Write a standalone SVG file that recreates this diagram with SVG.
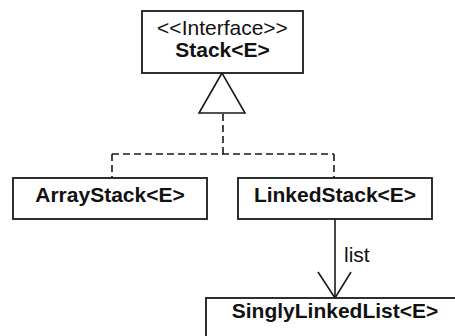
<svg xmlns="http://www.w3.org/2000/svg" width="455" height="336" viewBox="0 0 455 336">
  <style>
    .box { fill: #ffffff; stroke: #1a1a1a; stroke-width: 1.8; }
    .lbl { font-family: "Liberation Sans", Arial, sans-serif; font-size: 21px; fill: #111111; text-anchor: middle; }
    .b { font-weight: bold; }
    .line { fill: none; stroke: #1a1a1a; stroke-width: 1.6; }
    .dash { stroke-dasharray: 7 4; }
  </style>
  <rect width="455" height="336" fill="#ffffff"/>

  <g id="connectors">
    <!-- realization: implementations to the interface -->
    <path class="line dash" d="M223 114 V154 M112 154 H334 M112 154 V178 M334 154 V178"/>
    <polygon class="line" points="222,73 199,113 245,113" fill="#ffffff"/>
    <!-- association: LinkedStack -> SinglyLinkedList -->
    <path class="line" d="M335 219 V298"/>
    <path class="line" d="M318 272 L335 298 L351 272"/>
    <text class="lbl" x="344" y="262" text-anchor="start" style="text-anchor:start">list</text>
  </g>

  <g id="stack">
    <rect class="box" x="142" y="11" width="161" height="62"/>
    <text class="lbl" x="222.5" y="35">&lt;&lt;Interface&gt;&gt;</text>
    <text class="lbl b" x="222.5" y="57">Stack&lt;E&gt;</text>
  </g>

  <g id="arraystack">
    <rect class="box" x="13" y="178" width="194" height="41"/>
    <text class="lbl b" x="110" y="202">ArrayStack&lt;E&gt;</text>
  </g>

  <g id="linkedstack">
    <rect class="box" x="238" y="178" width="194" height="41"/>
    <text class="lbl b" x="335" y="202">LinkedStack&lt;E&gt;</text>
  </g>

  <g id="singlylinkedlist">
    <rect class="box" x="206" y="298" width="258" height="50"/>
    <text class="lbl b" x="335" y="318">SinglyLinkedList&lt;E&gt;</text>
  </g>
</svg>
